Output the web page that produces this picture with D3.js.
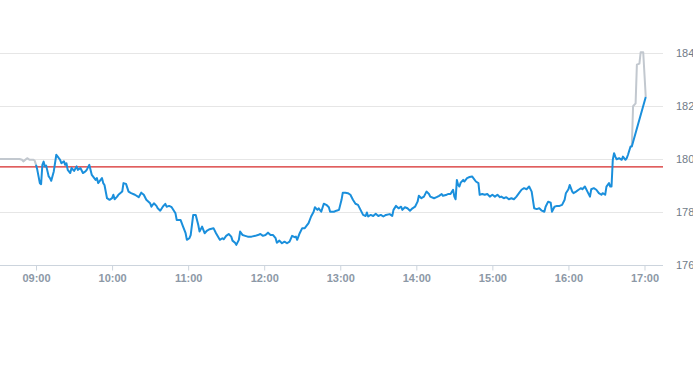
<!DOCTYPE html>
<html><head><meta charset="utf-8">
<script src="https://cdn.jsdelivr.net/npm/d3@7"></script>
<style>html,body{margin:0;padding:0;background:#fff;}svg{display:block;}</style>
</head><body>
<script>
// ---- data ----
const yTicks = [176, 178, 180, 182, 184];
const xTickLabels = ["09:00","10:00","11:00","12:00","13:00","14:00","15:00","16:00","17:00"];
const refPrice = 179.70;

const preTimes  = ["08:30","08:47","08:49","08:50","08:53","08:55","08:58","08:59","09:00"];
const preValues = [180.00,180.00,179.97,179.91,180.03,179.97,179.97,179.93,179.78];

const spikeTimes  = ["16:50","16:51","16:53","16:54","16:56","16:57","16:59","17:01"];
const spikeValues = [180.47,181.99,182.10,183.56,183.60,184.03,184.03,182.34];

const mainTimes = ["09:00","09:01","09:03","09:04","09:05","09:06","09:07","09:08","09:10","09:11","09:12","09:14","09:16","09:18","09:19","09:20","09:22","09:23","09:24","09:25","09:27","09:28","09:30","09:32","09:33","09:35","09:37","09:39","09:40","09:42","09:44","09:47","09:48","09:49","09:52","09:53","09:54","09:56","09:58",
"10:00","10:01","10:02","10:04","10:05","10:08","10:09","10:11","10:13","10:15","10:18","10:21","10:23","10:25","10:27","10:30","10:31","10:33","10:35","10:36","10:38","10:40","10:42","10:43","10:45","10:47","10:50","10:51","10:54","10:56","10:58","10:59",
"11:01","11:02","11:04","11:06","11:08","11:09","11:11","11:13","11:15","11:17","11:20","11:22","11:25","11:27","11:28","11:30","11:32","11:34","11:35","11:37","11:38","11:40","11:41","11:43","11:45","11:47","11:50","11:53","11:55","11:57","11:59",
"12:01","12:03","12:05","12:07","12:09","12:10","12:12","12:14","12:16","12:18","12:20","12:22","12:24","12:25","12:26","12:28","12:30","12:32","12:35","12:37","12:39","12:40","12:42","12:43","12:45","12:47","12:49","12:51","12:52","12:55","12:57","12:59",
"13:01","13:02","13:04","13:06","13:08","13:10","13:12","13:14","13:16","13:18","13:20","13:21","13:22","13:24","13:26","13:28","13:30","13:32","13:34","13:36","13:39","13:41","13:42","13:44","13:46","13:48","13:49","13:51","13:53","13:55","13:57","13:59",
"14:01","14:02","14:04","14:06","14:08","14:10","14:11","14:14","14:16","14:18","14:20","14:21","14:24","14:25","14:27","14:29","14:30","14:31","14:32","14:33","14:34","14:35","14:37","14:38","14:40","14:42","14:44","14:45","14:47","14:49","14:50","14:52","14:54","14:56","14:58",
"15:00","15:02","15:04","15:06","15:07","15:09","15:11","15:13","15:15","15:17","15:19","15:21","15:23","15:25","15:27","15:29","15:31","15:33","15:35","15:37","15:39","15:41","15:42","15:44","15:46","15:47","15:49","15:51","15:53","15:55","15:57","15:58",
"16:00","16:01","16:03","16:04","16:06","16:08","16:10","16:11","16:13","16:15","16:17","16:18","16:20","16:22","16:24","16:26","16:27","16:29","16:30","16:32","16:33","16:34","16:35","16:36","16:37","16:38","16:40","16:42","16:43","16:45","16:46","16:47","16:49","16:50","17:01"];
const mainValues = [179.78,179.59,179.09,179.05,179.78,179.90,179.72,179.75,179.34,179.28,179.18,179.53,180.16,180.03,179.97,179.84,179.91,179.78,179.84,179.59,179.47,179.66,179.55,179.72,179.59,179.66,179.47,179.53,179.59,179.78,179.40,179.21,179.28,179.09,179.28,179.09,179.02,178.52,178.46,
178.52,178.65,178.48,178.58,178.65,178.77,179.09,179.06,178.77,178.71,178.65,178.56,178.73,178.65,178.46,178.33,178.20,178.33,178.23,178.14,178.05,178.20,178.31,178.20,178.23,178.18,177.95,177.70,177.70,177.45,177.20,176.95,
177.01,177.13,177.89,177.89,177.51,177.26,177.45,177.20,177.30,177.35,177.39,177.20,176.95,177.01,176.97,177.10,177.17,177.07,176.92,176.84,176.76,176.95,177.26,177.13,177.10,177.07,177.07,177.10,177.13,177.17,177.10,
177.13,177.22,177.13,177.13,177.01,176.84,176.92,176.82,176.88,176.82,176.88,177.10,177.05,177.07,176.95,177.20,177.39,177.39,177.58,177.83,178.01,178.18,178.08,178.14,178.01,178.31,178.27,178.18,178.01,178.01,178.05,178.08,
178.46,178.73,178.73,178.71,178.65,178.46,178.31,178.27,178.08,177.89,177.85,177.98,177.83,177.89,177.85,177.93,177.85,177.89,177.83,177.89,177.92,177.85,178.08,178.23,178.14,178.20,178.08,178.18,178.14,178.05,178.14,178.20,
178.39,178.61,178.52,178.58,178.77,178.68,178.58,178.52,178.56,178.61,178.68,178.61,178.65,178.68,178.68,178.84,178.58,178.48,179.21,179.02,178.96,179.11,179.21,179.15,179.28,179.32,179.34,179.28,179.15,179.09,178.65,178.68,178.65,178.68,178.58,
178.65,178.58,178.65,178.56,178.58,178.52,178.56,178.48,178.52,178.48,178.58,178.71,178.84,178.90,178.86,178.96,178.77,178.14,178.11,178.14,178.05,178.01,178.20,178.39,178.35,178.01,178.20,178.23,178.23,178.27,178.46,178.71,
178.86,179.02,178.77,178.71,178.77,178.84,178.90,178.86,178.96,178.77,178.58,178.86,178.90,178.84,178.71,178.65,178.71,178.65,178.96,179.09,178.96,178.96,179.97,180.22,180.09,179.99,180.03,179.97,180.09,179.97,180.03,180.16,180.47,180.47,182.34];

// ---- chart ----
const W = 693, H = 365;
const parse = d3.timeParse("%H:%M");
const zip = (t, v) => t.map((s, i) => ({t: parse(s), v: v[i]}));
const mainData = zip(mainTimes, mainValues);
const preData = zip(preTimes, preValues);
const spikeData = zip(spikeTimes, spikeValues);

const x = d3.scaleTime().domain([parse("08:30"), parse("17:15")]).range([-2, 663.5]);
const y = d3.scaleLinear().domain([176, 184]).range([265, 53]);
const plotRight = 663;

const svg = d3.select("body").append("svg").attr("width", W).attr("height", H);

// grid
svg.append("g").selectAll("line").data(yTicks.filter(d => d !== 176)).join("line")
  .attr("x1", 0).attr("x2", plotRight)
  .attr("y1", d => Math.round(y(d)) + 0.5).attr("y2", d => Math.round(y(d)) + 0.5)
  .attr("stroke", "#e6e6e6").attr("stroke-width", 1);

// right labels
svg.append("g").selectAll("text").data(yTicks).join("text")
  .attr("x", 676).attr("y", d => y(d)).attr("dy", "0.35em")
  .attr("font-family", "Liberation Sans, Arial, sans-serif").attr("font-size", 11)
  .attr("fill", "#6f7b88").text(d => d);

// x axis
const xAxis = d3.axisBottom(x).tickValues(xTickLabels.map(parse)).tickFormat(d3.timeFormat("%H:%M")).tickSize(5).tickSizeOuter(0);
const gx = svg.append("g").attr("transform", "translate(0,265.5)").call(xAxis);
gx.select(".domain").remove();
gx.append("line").attr("x1", 0).attr("x2", plotRight).attr("y1", 0).attr("y2", 0).attr("stroke", "#ccd4dd");
gx.selectAll(".tick line").attr("stroke", "#ccd4dd");
gx.selectAll(".tick text").attr("font-family", "Liberation Sans, Arial, sans-serif").attr("font-size", 11)
  .attr("font-weight", "bold").attr("fill", "#8c98a6").attr("y", 9);

// reference line
svg.append("line").attr("x1", 0).attr("x2", plotRight)
  .attr("y1", y(refPrice)).attr("y2", y(refPrice))
  .attr("stroke", "#d62828").attr("stroke-width", 1.3);

const line = d3.line().x(d => x(d.t)).y(d => y(d.v));

svg.append("path").datum(preData).attr("d", line).attr("fill", "none")
  .attr("stroke", "#c2c8cf").attr("stroke-width", 2).attr("stroke-linejoin", "round");
svg.append("path").datum(spikeData).attr("d", line).attr("fill", "none")
  .attr("stroke", "#c2c8cf").attr("stroke-width", 2).attr("stroke-linejoin", "round");
svg.append("path").datum(mainData).attr("d", line).attr("fill", "none")
  .attr("stroke", "#1a8fdc").attr("stroke-width", 2).attr("stroke-linejoin", "round");
</script>
</body></html>
